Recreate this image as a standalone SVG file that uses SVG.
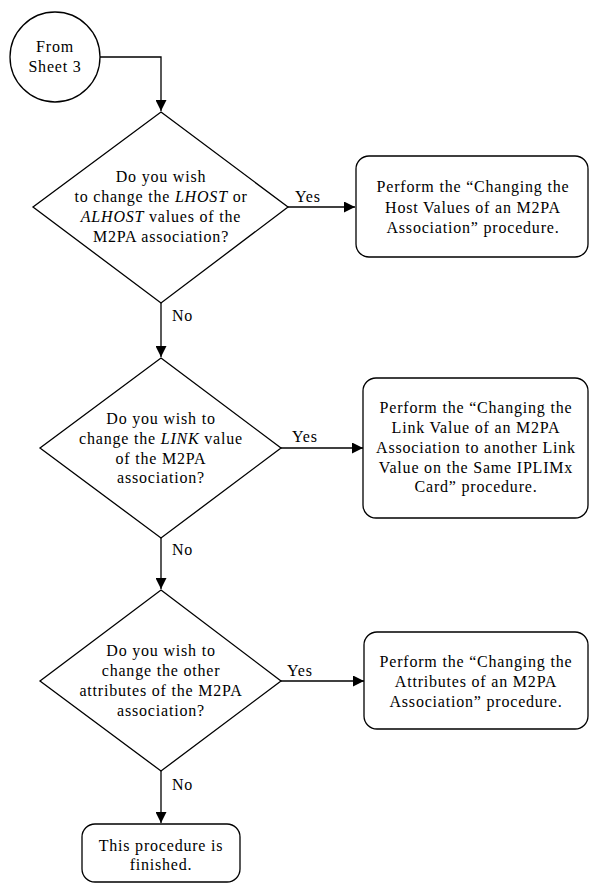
<svg xmlns="http://www.w3.org/2000/svg" width="590" height="884" viewBox="0 0 590 884">
<style>
.shape{fill:#fff;stroke:#000;stroke-width:1.3}
.conn{fill:none;stroke:#000;stroke-width:1.3}
text{font-family:"Liberation Serif","Times New Roman",serif;font-size:16px;fill:#000;letter-spacing:0.8px}
.c{text-anchor:middle}
.lbl{text-anchor:start}
</style>
<defs>
<marker id="arr" markerUnits="userSpaceOnUse" markerWidth="12" markerHeight="11" refX="11" refY="5.5" orient="auto">
<path d="M0,0 L11,5.5 L0,11 Z" fill="#000"/>
</marker>
</defs>
<rect width="590" height="884" fill="#fff"/>
<g id="connectors">
<path class="conn" d="M100,57 H161 V111" marker-end="url(#arr)"/>
<path class="conn" d="M288,207 H355" marker-end="url(#arr)"/>
<path class="conn" d="M161,303 V357" marker-end="url(#arr)"/>
<path class="conn" d="M281,448 H363" marker-end="url(#arr)"/>
<path class="conn" d="M161,538 V589" marker-end="url(#arr)"/>
<path class="conn" d="M281,681 H364" marker-end="url(#arr)"/>
<path class="conn" d="M161,771 V823" marker-end="url(#arr)"/>
<text class="lbl" x="295" y="202">Yes</text>
<text class="lbl" x="172" y="321">No</text>
<text class="lbl" x="292" y="442">Yes</text>
<text class="lbl" x="172" y="555">No</text>
<text class="lbl" x="287" y="676">Yes</text>
<text class="lbl" x="172" y="790">No</text>
</g>
<g id="start">
<circle class="shape" cx="55" cy="57" r="45"/>
<text class="c" x="55" y="52">From</text>
<text class="c" x="55" y="72">Sheet 3</text>
</g>
<g id="decision1">
<polygon class="shape" points="161,112 288,207 161,303 33,207"/>
<text class="c" x="161" y="182">Do you wish</text>
<text class="c" x="161" y="202">to change the <tspan font-style="italic">LHOST</tspan> or</text>
<text class="c" x="161" y="222"><tspan font-style="italic">ALHOST</tspan> values of the</text>
<text class="c" x="161" y="242">M2PA association?</text>
</g>
<g id="proc1">
<rect class="shape" x="356" y="156" width="232" height="101" rx="13"/>
<text class="c" x="473" y="192">Perform the “Changing the</text>
<text class="c" x="473" y="213">Host Values of an M2PA</text>
<text class="c" x="473" y="233">Association” procedure.</text>
</g>
<g id="decision2">
<polygon class="shape" points="161,358 281,448 161,538 40,448"/>
<text class="c" x="161" y="424">Do you wish to</text>
<text class="c" x="161" y="444">change the <tspan font-style="italic">LINK</tspan> value</text>
<text class="c" x="161" y="464">of the M2PA</text>
<text class="c" x="161" y="483">association?</text>
</g>
<g id="proc2">
<rect class="shape" x="363" y="378" width="225" height="140" rx="13"/>
<text class="c" x="476" y="413">Perform the “Changing the</text>
<text class="c" x="476" y="433">Link Value of an M2PA</text>
<text class="c" x="476" y="453">Association to another Link</text>
<text class="c" x="476" y="473">Value on the Same IPLIMx</text>
<text class="c" x="476" y="492">Card” procedure.</text>
</g>
<g id="decision3">
<polygon class="shape" points="161,590 281,681 161,771 40,681"/>
<text class="c" x="161" y="656">Do you wish to</text>
<text class="c" x="161" y="676">change the other</text>
<text class="c" x="161" y="696">attributes of the M2PA</text>
<text class="c" x="161" y="716">association?</text>
</g>
<g id="proc3">
<rect class="shape" x="364" y="632" width="224" height="97" rx="13"/>
<text class="c" x="476" y="667">Perform the “Changing the</text>
<text class="c" x="476" y="687">Attributes of an M2PA</text>
<text class="c" x="476" y="707">Association” procedure.</text>
</g>
<g id="end">
<rect class="shape" x="82" y="824" width="158" height="58" rx="13"/>
<text class="c" x="161" y="851">This procedure is</text>
<text class="c" x="161" y="870">finished.</text>
</g>
</svg>
